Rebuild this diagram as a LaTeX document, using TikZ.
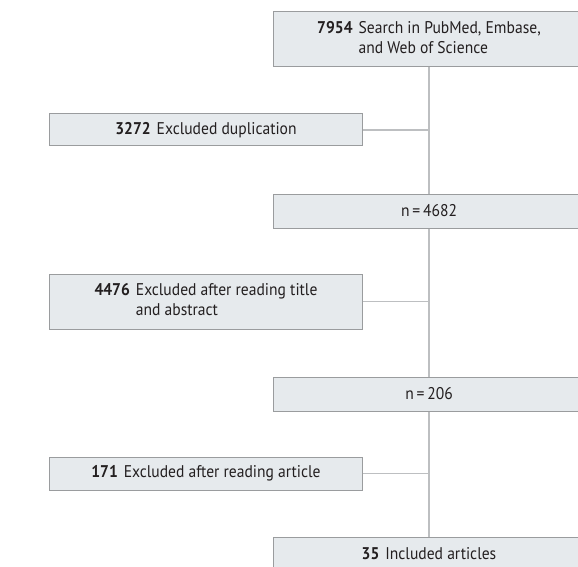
\documentclass[tikz,border=0pt]{standalone}
\usepackage{fontspec}
\setmainfont{PT Sans}[FakeStretch=0.92]
\definecolor{boxfill}{HTML}{E6EAED}
\definecolor{boxline}{HTML}{9A9C9E}
\definecolor{conn}{HTML}{BDBFC1}
\definecolor{txt}{HTML}{231F20}
\begin{document}
\begin{tikzpicture}[x=1bp,y=-1bp,
  flowbox/.style={draw=boxline,fill=boxfill,line width=1bp,minimum width=312bp,
    inner sep=0pt,text=txt,font=\fontsize{17}{19.5}\selectfont},
  link/.style={draw=conn,line width=1.5bp}]
\useasboundingbox (0,0) rectangle (578,567);
\node[flowbox,minimum height=55bp] (search) at (429,39.5)
  {\begin{tabular}{@{}l@{\hspace{6bp}}l@{}}\textbf{7954} & Search in PubMed, Embase,\\ & and Web of Science\end{tabular}};
\node[flowbox,minimum height=32bp] (dup) at (206,130)
  {\textbf{3272}\hspace{6bp}Excluded duplication};
\node[flowbox,minimum height=34bp] (n1) at (429,211) {n\,=\,4682};
\node[flowbox,minimum height=55bp] (title) at (206,301.5)
  {\begin{tabular}{@{}l@{\hspace{6bp}}l@{}}\textbf{4476} & Excluded after reading title\\ & and abstract\end{tabular}};
\node[flowbox,minimum height=34bp] (n2) at (429,394) {n\,=\,206};
\node[flowbox,minimum height=33bp] (art) at (206,473.5)
  {\textbf{171}\hspace{6bp}Excluded after reading article};
\node[flowbox,minimum height=34bp] (incl) at (429,554)
  {\textbf{35}\hspace{6bp}Included articles};
\draw[link] (search.south) -- (n1.north);
\draw[link] (n1.south) -- (n2.north);
\draw[link] (n2.south) -- (incl.north);
\draw[link] (dup.east) -- (dup.east -| search.south);
\draw[link] (title.east) -- (title.east -| search.south);
\draw[link] (art.east) -- (art.east -| search.south);
\end{tikzpicture}
\end{document}
